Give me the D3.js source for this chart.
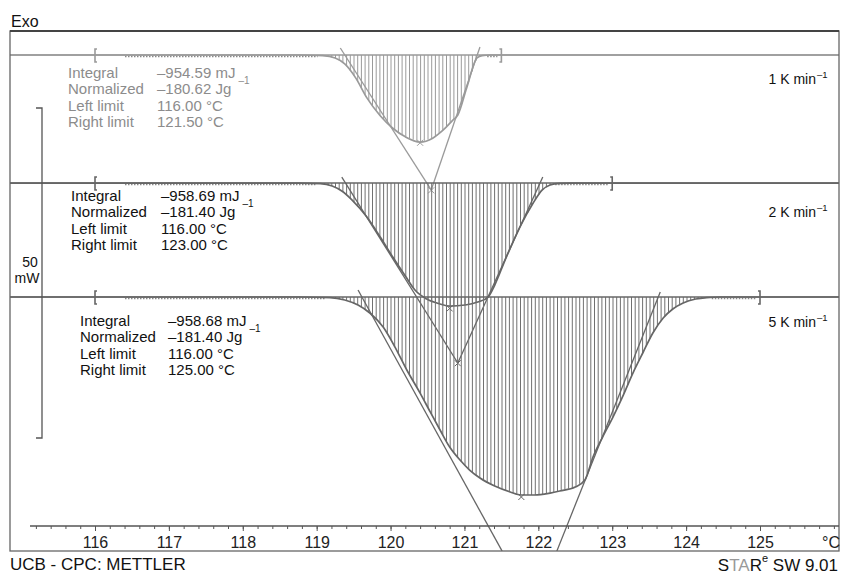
<!DOCTYPE html>
<html><head><meta charset="utf-8">
<script src="https://cdn.jsdelivr.net/npm/d3@7"></script>
<style>
html,body{margin:0;padding:0;background:#fff;}
svg{display:block;font-family:"Liberation Sans",Arial,Helvetica,sans-serif;}
</style></head>
<body>
<svg id="c" width="841" height="575"></svg>
<script>
// ---------- data ----------
const rateLabels = ["1 K min", "2 K min", "5 K min"];
const baselineOffsets = [0, -19.4, -36.67];           // mW shift of each curve
const leftLimits = [116.0, 116.0, 116.0];
const rightLimits = [121.5, 123.0, 125.0];
const integralText = ["–954.59 mJ", "–958.69 mJ", "–958.68 mJ"];
const normalizedText = ["–180.62 Jg", "–181.40 Jg", "–181.40 Jg"];
const leftLimitText = ["116.00 °C", "116.00 °C", "116.00 °C"];
const rightLimitText = ["121.50 °C", "123.00 °C", "125.00 °C"];
const majorTicks = [116, 117, 118, 119, 120, 121, 122, 123, 124, 125];

// heat flow (mW, relative to each baseline) vs temperature (°C)
const temp1 = [114.85, 118.77, 119.08, 119.25, 119.38, 119.53, 119.68, 119.86, 120.03, 120.2, 120.4, 120.57, 120.71, 120.84, 120.91, 121.03, 121.17, 121.24, 121.35, 126.07];
const flow1 = [0, 0, -0.1, -0.45, -1.35, -3.5, -6.5, -9.2, -11.1, -12.4, -13.2, -12.6, -11.4, -9.9, -9.1, -5.0, -0.45, -0.1, 0, 0];

const temp2 = [114.85, 118.77, 119.05, 119.21, 119.34, 119.48, 119.68, 119.86, 120.03, 120.2, 120.33, 120.49, 120.67, 120.8, 121.01, 121.18, 121.32, 121.41, 121.55, 121.75, 121.93, 122.05, 122.16, 122.29, 122.43, 126.07];
const flow2 = [0, 0, -0.08, -0.45, -1.21, -2.58, -5.15, -8.18, -11.21, -14.09, -16.21, -17.58, -18.33, -18.64, -18.48, -18.03, -17.27, -15.45, -11.67, -6.67, -3.03, -1.06, -0.3, -0.05, 0, 0];

const temp3 = [114.85, 118.77, 119.18, 119.38, 119.56, 119.72, 119.9, 120.06, 120.22, 120.4, 120.53, 120.67, 120.8, 120.94, 121.07, 121.21, 121.41, 121.62, 121.77, 121.95, 122.16, 122.29, 122.5, 122.63, 122.74, 122.87, 123.01, 123.15, 123.28, 123.42, 123.55, 123.69, 123.82, 123.96, 124.13, 124.28, 124.46, 126.07];
const flow3 = [0, 0, -0.08, -0.45, -1.21, -2.42, -4.55, -7.58, -11.06, -14.55, -17.27, -20.15, -22.73, -24.7, -26.21, -27.42, -28.64, -29.55, -30.0, -30.0, -29.7, -29.39, -28.79, -27.73, -24.24, -21.21, -18.18, -14.85, -11.52, -8.33, -5.45, -3.18, -1.82, -0.91, -0.3, -0.08, 0, 0];

// tangent lines [T1, v1, T2, v2] relative to baseline
const tangentsLeft = [[119.32, 1.06, 120.55, -20.45], [119.34, 0.91, 120.91, -27.27], [119.56, 1.06, 121.51, -38.5]];
const tangentsRight = [[121.21, 1.21, 120.55, -20.45], [122.06, 0.91, 120.91, -27.27], [123.65, 0.76, 122.25, -38.5]];
// characteristic points [T, v]
const peakMarks = [[120.4, -13.3], [120.8, -19.0], [121.77, -30.3]];
const onsetMarks = [[120.55, -20.5], [120.91, -27.3], null];

const temps = [temp1, temp2, temp3];
const flows = [flow1, flow2, flow3];

// ---------- scales ----------
const svg = d3.select("#c");
const x = d3.scaleLinear().domain([116, 125]).range([95, 760]);
const y = d3.scaleLinear().domain([0, -50]).range([55, 385]);
const frame = {l: 10, r: 839, t: 31, b: 551};
const axisY = 526;

svg.append("defs").append("clipPath").attr("id", "clip")
  .append("rect").attr("x", frame.l).attr("y", frame.t)
  .attr("width", frame.r - frame.l).attr("height", frame.b - frame.t);

const plot = svg.append("g").attr("clip-path", "url(#clip)");

const lineCol = ["#9a9a9a", "#666", "#666"];
const hatchCol = ["#9a9a9a", "#707070", "#707070"];
const textCol = ["#8c8c8c", "#111", "#111"];

function interp(Ts, Vs, t) {
  const i = d3.bisectRight(Ts, t);
  if (i <= 0) return Vs[0];
  if (i >= Ts.length) return Vs[Vs.length - 1];
  const t0 = Ts[i - 1], t1 = Ts[i];
  return Vs[i - 1] + (Vs[i] - Vs[i - 1]) * (t - t0) / (t1 - t0);
}

[0, 1, 2].forEach(k => {
  const off = baselineOffsets[k];
  const Ts = temps[k], Vs = flows[k];
  const g = plot.append("g");
  const by = y(off);
  // hatching
  const x0 = x(leftLimits[k]), x1 = x(rightLimits[k]);
  d3.range(x0, x1, 3.7).forEach(px => {
    const v = interp(Ts, Vs, x.invert(px));
    if (v < -0.12) {
      g.append("line").attr("x1", px).attr("x2", px)
        .attr("y1", by).attr("y2", y(off + v))
        .attr("stroke", hatchCol[k]).attr("stroke-width", 1);
    }
  });
  // baseline (full width)
  g.append("line").attr("x1", frame.l).attr("x2", frame.r).attr("y1", by).attr("y2", by)
    .attr("stroke", lineCol[k]).attr("stroke-width", 1.6);
  // dotted integration baseline
  const startT = Ts.find((t, i) => Vs[i] < -0.05);
  const endT = Ts[Ts.length - 1 - [...Vs].reverse().findIndex(v => v < -0.05)];
  g.append("line").attr("x1", x(leftLimits[k]) + 30).attr("x2", x(startT) - 5)
    .attr("y1", by + 1.5).attr("y2", by + 1.5)
    .attr("stroke", "#888").attr("stroke-width", 1.4).attr("stroke-dasharray", "1.5,1.5");
  g.append("line").attr("x1", x(endT) + 5).attr("x2", x(rightLimits[k]) - 4)
    .attr("y1", by + 1.5).attr("y2", by + 1.5)
    .attr("stroke", "#888").attr("stroke-width", 1.4).attr("stroke-dasharray", "1.5,1.5");
  // curve
  const line = d3.line().x((d, i) => x(d)).y((d, i) => y(off + Vs[i])).curve(d3.curveMonotoneX);
  g.append("path").attr("d", line(Ts)).attr("fill", "none")
    .attr("stroke", lineCol[k]).attr("stroke-width", 1.7);
  // tangents
  [tangentsLeft[k], tangentsRight[k]].forEach(tg => {
    g.append("line").attr("x1", x(tg[0])).attr("y1", y(off + tg[1]))
      .attr("x2", x(tg[2])).attr("y2", y(off + tg[3]))
      .attr("stroke", lineCol[k]).attr("stroke-width", 1.3);
  });
  // markers
  [peakMarks[k], onsetMarks[k]].forEach(m => {
    if (!m) return;
    const mx = x(m[0]), my = y(off + m[1]);
    g.append("path").attr("d", `M${mx-3},${my-3}L${mx+3},${my+3}M${mx+3},${my-3}L${mx-3},${my+3}`)
      .attr("stroke", lineCol[k]).attr("stroke-width", 1);
  });
  // limit brackets
  [[leftLimits[k], 1], [rightLimits[k], -1]].forEach(([t, dir]) => {
    const bx = x(t);
    g.append("path").attr("d", `M${bx + 2 * dir},${by - 6}L${bx},${by - 6}L${bx},${by + 7}L${bx + 2 * dir},${by + 7}`)
      .attr("fill", "none").attr("stroke", lineCol[k]).attr("stroke-width", 1.6);
  });
});

// ---------- frame ----------
svg.append("rect").attr("x", frame.l).attr("y", frame.t)
  .attr("width", frame.r - frame.l).attr("height", frame.b - frame.t)
  .attr("fill", "none").attr("stroke", "#666").attr("stroke-width", 1.3);
svg.append("line").attr("x1", frame.l).attr("x2", frame.r).attr("y1", frame.t).attr("y2", frame.t)
  .attr("stroke", "#444").attr("stroke-width", 2);

// ---------- x axis ----------
const ax = svg.append("g").attr("transform", `translate(0,${axisY})`);
ax.append("line").attr("x1", x(115.12)).attr("x2", frame.r).attr("y1", 0).attr("y2", 0)
  .attr("stroke", "#555").attr("stroke-width", 1.3);
const minorTicks = d3.range(115.2, 126.05, 0.2);
ax.append("g").call(d3.axisBottom(x).tickValues(minorTicks).tickSize(3).tickFormat(""))
  .call(g => g.select(".domain").remove())
  .call(g => g.selectAll("line").attr("stroke", "#555"));
const maj = ax.append("g").call(d3.axisBottom(x).tickValues(majorTicks).tickSize(5).tickFormat(d3.format("d")))
  .call(g => g.select(".domain").remove());
maj.selectAll("line").attr("stroke", "#555");
maj.selectAll("text").attr("y", 22).attr("dy", 0).attr("fill", "#222")
  .style("font-size", "16px").style("font-family", "'Liberation Sans', Arial, sans-serif");
ax.append("text").attr("x", 831).attr("y", 22).attr("text-anchor", "middle")
  .attr("fill", "#222").style("font-size", "16px").text("°C");

// ---------- texts ----------
svg.append("text").attr("x", 11).attr("y", 27).attr("fill", "#111").style("font-size", "16px").text("Exo");

const blockX = [68, 71, 80];
const valX = [157, 161, 168];
const blockY = [78, 201, 326];
const rowH = 16.4;
[0, 1, 2].forEach(k => {
  const labels = ["Integral", "Normalized", "Left limit", "Right limit"];
  const vals = [integralText[k], normalizedText[k], leftLimitText[k], rightLimitText[k]];
  let wMax = 0;
  labels.forEach((l, i) => {
    svg.append("text").attr("x", blockX[k]).attr("y", blockY[k] + i * rowH)
      .attr("fill", textCol[k]).style("font-size", "15px").text(l);
    const t = svg.append("text").attr("x", valX[k]).attr("y", blockY[k] + i * rowH)
      .attr("fill", textCol[k]).style("font-size", "15px").text(vals[i]);
    if (i < 2) wMax = Math.max(wMax, t.node().getComputedTextLength());
  });
  svg.append("text").attr("x", valX[k] + wMax + 3).attr("y", blockY[k] + rowH - 10.5)
    .attr("fill", textCol[k]).style("font-size", "10px").text("–1");
  // rate label right
  const ry = [84, 217, 327][k];
  svg.append("text").attr("x", 816).attr("y", ry).attr("text-anchor", "end")
    .attr("fill", "#111").style("font-size", "14px").text(rateLabels[k]);
  svg.append("text").attr("x", 817).attr("y", ry - 6).attr("fill", "#111")
    .style("font-size", "9.5px").text("–1");
});

// 50 mW scale bar
svg.append("path").attr("d", "M36,108L42,108L42,438L36,438").attr("fill", "none")
  .attr("stroke", "#555").attr("stroke-width", 1.3);
svg.append("text").attr("x", 30).attr("y", 267).attr("text-anchor", "middle").attr("fill", "#111")
  .style("font-size", "14px").text("50");
svg.append("text").attr("x", 27).attr("y", 283).attr("text-anchor", "middle").attr("fill", "#111")
  .style("font-size", "14px").text("mW");

// footer
svg.append("text").attr("x", 10).attr("y", 570).attr("fill", "#111").style("font-size", "17px")
  .text("UCB - CPC: METTLER");
const star = svg.append("text").attr("x", 838).attr("y", 571).attr("text-anchor", "end")
  .attr("fill", "#111").style("font-size", "17px");
star.append("tspan").text("S");
star.append("tspan").attr("fill", "#999").text("TA");
star.append("tspan").text("R");
star.append("tspan").attr("dy", -9).style("font-size", "11px").text("e");
star.append("tspan").attr("dy", 9).text(" SW 9.01");
</script>
</body></html>
